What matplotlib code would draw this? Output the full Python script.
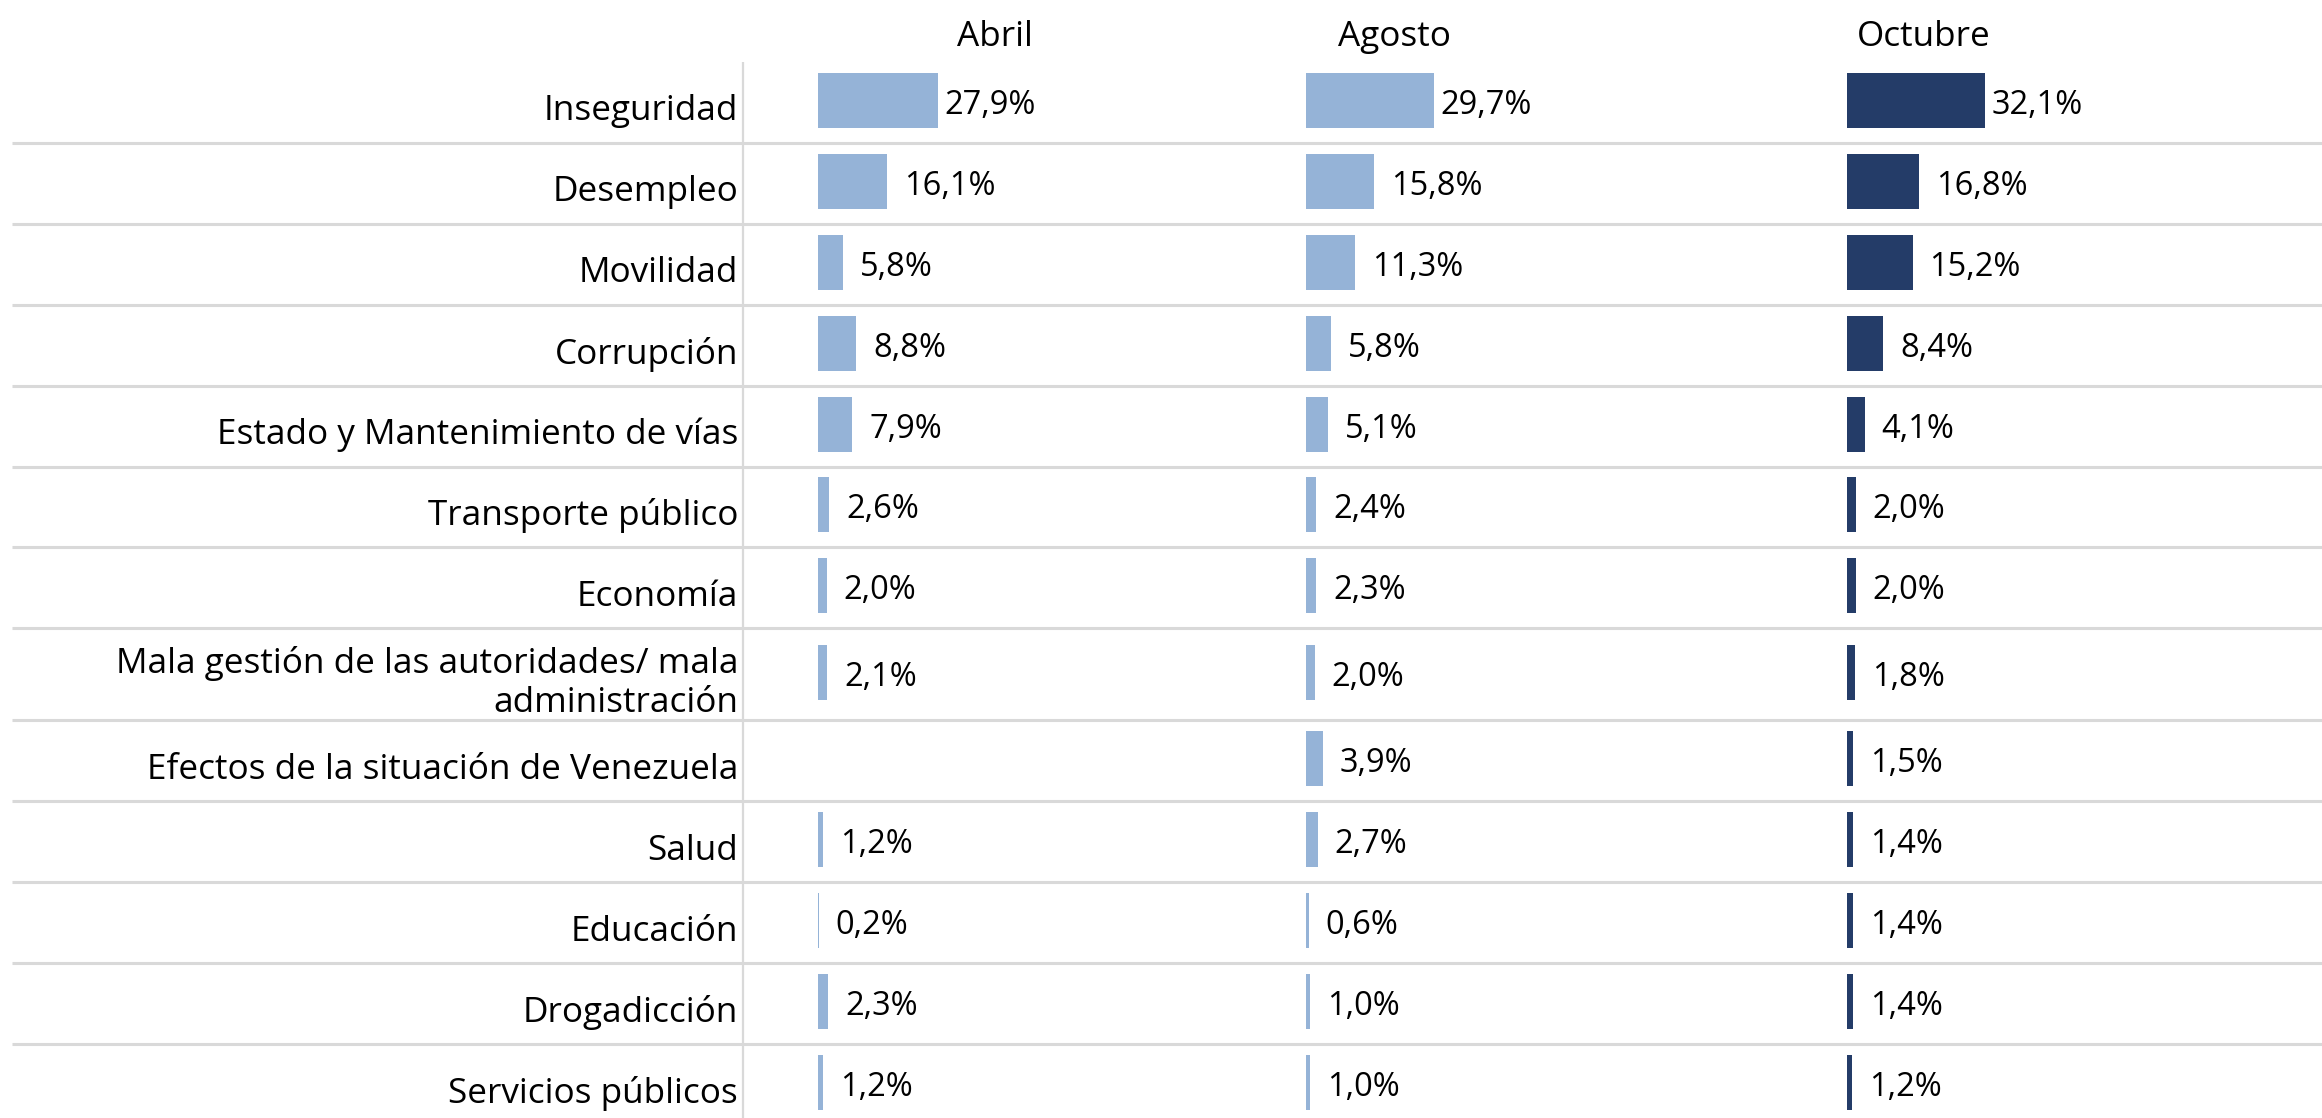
import matplotlib
matplotlib.use("Agg")
import matplotlib.pyplot as plt
import numpy as np

# problem categories and shares (%) per survey wave
categories = [
    "Inseguridad",
    "Desempleo",
    "Movilidad",
    "Corrupción",
    "Estado y Mantenimiento de vías",
    "Transporte público",
    "Economía",
    "Mala gestión de las autoridades/ mala\nadministración",
    "Efectos de la situación de Venezuela",
    "Salud",
    "Educación",
    "Drogadicción",
    "Servicios públicos",
]
months = ["Abril", "Agosto", "Octubre"]
abril = [27.9, 16.1, 5.8, 8.8, 7.9, 2.6, 2.0, 2.1, None, 1.2, 0.2, 2.3, 1.2]
agosto = [29.7, 15.8, 11.3, 5.8, 5.1, 2.4, 2.3, 2.0, 3.9, 2.7, 0.6, 1.0, 1.0]
octubre = [32.1, 16.8, 15.2, 8.4, 4.1, 2.0, 2.0, 1.8, 1.5, 1.4, 1.4, 1.4, 1.2]
series = [abril, agosto, octubre]

# layout (pixels)
W, H = 2322, 1118
PX_PER_PCT = 4.31
top = 62
row_h = np.array([80.9] * 7 + [92] + [80.9] * 5)
col_x0 = [818, 1306, 1847]
col_span = 470
header_x = [995, 1394, 1924]
colors = ["#95B3D7", "#95B3D7", "#243C68"]
grid_color = "#D9D9D9"
font = ["Open Sans", "DejaVu Sans"]
fs_label = 25.3
fs_value = 23.5

row_tops = top + np.concatenate([[0], np.cumsum(row_h)[:-1]])
row_centers = row_tops + row_h / 2

fig = plt.figure(figsize=(W / 100, H / 100), dpi=100)
fig.patch.set_facecolor("white")

bg = fig.add_axes([0, 0, 1, 1])
bg.set_xlim(0, W)
bg.set_ylim(H, 0)
bg.axis("off")

# row separators and the label column divider
for y in row_tops[1:]:
    bg.plot([12, W], [y, y], color=grid_color, lw=2.2, solid_capstyle="butt")
bg.plot([743, 743], [top, H], color=grid_color, lw=1.6, solid_capstyle="butt")

for cat, yc in zip(categories, row_centers):
    bg.text(738, yc + 9, cat, ha="right", va="center", fontsize=fs_label,
            family=font, linespacing=1.2, color="black")

for name, hx in zip(months, header_x):
    bg.text(hx, 37, name, ha="center", va="center", fontsize=fs_label,
            family=font, color="black")

for vals, x0, color in zip(series, col_x0, colors):
    ax = fig.add_axes([x0 / W, 0, col_span / W, 1])
    ax.set_xlim(0, col_span / PX_PER_PCT)
    ax.set_ylim(H, 0)
    ax.axis("off")
    ax.patch.set_alpha(0)
    present = [(v, yc) for v, yc in zip(vals, row_centers) if v is not None]
    v_arr = np.array([p[0] for p in present])
    y_arr = np.array([p[1] for p in present])
    ax.barh(y_arr - 2, v_arr, height=55, left=0, color=color, edgecolor="none")
    vmax = v_arr.max()
    for v, yc in zip(v_arr, y_arr):
        pad = 6 if v == vmax else 17
        label = f"{v:.1f}".replace(".", ",") + "%"
        ax.text(v + pad / PX_PER_PCT, yc + 3, label, ha="left", va="center",
                fontsize=fs_value, family=font, color="black")

fig.savefig("out.png", dpi=100, facecolor="white")
